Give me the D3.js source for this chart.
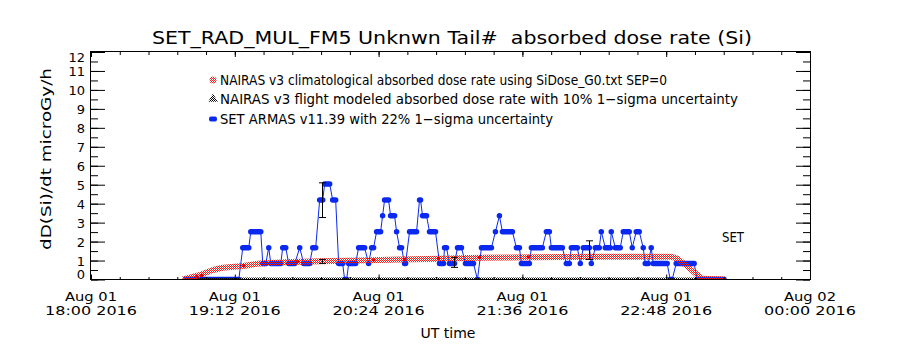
<!DOCTYPE html>
<html>
<head>
<meta charset="utf-8">
<script src="https://cdn.jsdelivr.net/npm/d3@7"></script>
<style>
  body { margin: 0; background: #fff; }
  text { font-family: "DejaVu Sans", sans-serif; fill: #000; white-space: pre; }
</style>
</head>
<body>
<svg id="chart" width="900" height="350"></svg>
<script>
// x axis ticks (UT) and y ticks
const xTickTimes = ["2016-08-01 18:00", "2016-08-01 19:12", "2016-08-01 20:24",
                    "2016-08-01 21:36", "2016-08-01 22:48", "2016-08-02 00:00"];
const yTickValues = [0, 1, 2, 3, 4, 5, 6, 7, 8, 9, 10, 11, 12];

// NAIRAS v3 climatological dose rate (microGy/h)
const climTime = ["18:46:00", "18:48:00", "18:54:30", "19:01:00", "19:06:00", "19:16:00",
                  "19:24:30", "19:39:30", "19:54:30", "20:19:30", "20:34:30", "20:54:30",
                  "21:14:30", "21:41:30", "22:15:00", "22:50:30", "22:53:30", "22:58:30",
                  "23:03:30", "23:06:00", "23:11:00", "23:17:30"];
const climDose = [0.0, 0.06, 0.24, 0.5, 0.62, 0.71, 0.85, 0.92, 0.96, 1.02, 1.05, 1.1,
                  1.15, 1.18, 1.2, 1.2, 1.1, 0.7, 0.25, 0.05, 0.02, 0.0];
// solid red markers on the climatological curve
const climMarkTime = ["18:53:00", "18:55:30", "19:16:30", "19:43:30", "20:21:30",
                      "20:37:00", "20:54:00", "21:14:30", "21:39:00"];
const climMarkDose = [0.15, 0.22, 0.72, 0.94, 1.03, 1.06, 1.12, 1.16, 1.19];

// NAIRAS v3 flight modeled
const flightTime = ["18:46:00", "23:17:30"];
const flightDose = [0, 0];
const flightErrTime = ["19:55:30"];
const flightErrLow = [0.85];
const flightErrHigh = [1.06];

// SET ARMAS v11.39, runs of constant dose
const armasStart = ["18:47:30", "19:16:00", "19:20:00", "19:26:00", "19:29:00", "19:30:00",
  "19:36:00", "19:39:00", "19:44:30", "19:46:30", "19:51:00", "19:54:30", "19:57:00",
  "20:01:00", "20:04:00", "20:07:00", "20:09:00", "20:14:00", "20:19:00", "20:20:30",
  "20:23:00", "20:26:00", "20:27:00", "20:30:00", "20:33:00", "20:34:30", "20:37:00",
  "20:39:30", "20:44:30", "20:46:00", "20:49:30", "20:54:30", "20:57:00", "20:59:30",
  "21:03:30", "21:07:30", "21:13:30", "21:15:30", "21:22:30", "21:24:30", "21:26:00",
  "21:33:00", "21:35:30", "21:40:30", "21:48:00", "21:50:30", "21:58:00", "22:00:30",
  "22:05:00", "22:06:30", "22:10:30", "22:12:30", "22:15:30", "22:17:30", "22:20:30",
  "22:22:30", "22:26:30", "22:31:00", "22:33:00", "22:36:30", "22:37:30", "22:40:30",
  "22:41:30", "22:50:00", "22:53:00", "23:03:30"];
const armasEnd = ["19:14:00", "19:19:00", "19:25:00", "19:27:30", "19:29:00", "19:35:00",
  "19:37:30", "19:42:00", "19:44:30", "19:49:30", "19:52:30", "19:56:00", "19:59:30",
  "20:02:30", "20:06:00", "20:08:00", "20:12:30", "20:17:00", "20:19:00", "20:21:30",
  "20:25:00", "20:26:00", "20:29:00", "20:32:00", "20:33:00", "20:35:30", "20:37:30",
  "20:43:00", "20:45:00", "20:48:00", "20:52:30", "20:56:30", "20:58:00", "21:02:00",
  "21:05:30", "21:11:30", "21:13:30", "21:20:30", "21:22:30", "21:24:30", "21:31:00",
  "21:34:30", "21:39:30", "21:46:00", "21:49:30", "21:56:00", "21:59:30", "22:03:30",
  "22:05:00", "22:09:30", "22:10:30", "22:14:30", "22:15:30", "22:20:00", "22:20:30",
  "22:25:00", "22:29:30", "22:31:00", "22:34:30", "22:36:30", "22:39:00", "22:40:30",
  "22:48:30", "22:51:00", "23:02:00", "23:17:00"];
const armasDose = [0, 1.68, 2.52, 0.84, 1.68, 0.84,
  1.68, 0.84, 1.68, 0.84, 1.68, 4.2, 5.04,
  4.2, 0.84, 0, 0.84, 1.68, 0.84, 1.68,
  2.52, 3.36, 4.2, 3.36, 2.52, 1.68, 0.84,
  2.52, 4.2, 3.36, 2.52, 0.84, 1.68, 0.84,
  1.68, 0.84, 0, 1.68, 2.52, 3.36, 2.52,
  1.68, 0.84, 1.68, 2.52, 1.68, 0.84, 1.68,
  0.84, 1.68, 0.84, 1.68, 2.52, 1.68, 2.52,
  1.68, 2.52, 1.68, 2.52, 1.68, 0.84, 1.68,
  0.84, 0, 0.84, 0];
const armasErrTime = ["19:55:30", "21:02:00", "22:09:30"];
const armasErrLow = [3.27, 0.64, 1.06];
const armasErrHigh = [5.1, 1.17, 2.04];

const legendLabels = [
  "NAIRAS v3 climatological absorbed dose rate using SiDose_G0.txt SEP=0",
  "NAIRAS v3 flight modeled absorbed dose rate with 10% 1\u2212sigma uncertainty",
  "SET ARMAS v11.39 with 22% 1\u2212sigma uncertainty"
];

const parseTick = d3.utcParse("%Y-%m-%d %H:%M");
const parseT = s => d3.utcParse("%Y-%m-%d %H:%M:%S")("2016-08-01 " + s);

function drawChart() {
  const left = 91, right = 810, top = 52, bottom = 279.5;
  const svg = d3.select("#chart");
  const blue = "#0a28f0";

  const ticks = xTickTimes.map(parseTick);
  const x = d3.scaleUtc()
      .domain([ticks[0], ticks[ticks.length - 1]])
      .range([left, right]);
  const y = d3.scaleLinear()
      .domain([0, 12])
      .range([bottom, top]);

  // hatch patterns (IDL-like checkered symbols)
  const defs = svg.append("defs");
  function hatch(id, col) {
    const p = defs.append("pattern").attr("id", id)
        .attr("width", 2).attr("height", 2)
        .attr("patternUnits", "userSpaceOnUse");
    p.append("rect").attr("width", 1).attr("height", 1).attr("fill", col);
    p.append("rect").attr("x", 1).attr("y", 1).attr("width", 1).attr("height", 1).attr("fill", col);
  }
  hatch("redHatch", "#e82020");
  hatch("blackHatch", "#000");
  defs.append("clipPath").attr("id", "plotClip")
    .append("rect").attr("x", left).attr("y", top)
      .attr("width", right - left).attr("height", bottom - top);

  // title
  svg.append("text")
      .attr("x", 452).attr("y", 44)
      .attr("text-anchor", "middle")
      .attr("font-size", 17)
      .attr("textLength", 600).attr("lengthAdjust", "spacingAndGlyphs")
      .text("SET_RAD_MUL_FM5 Unknwn Tail#  absorbed dose rate (Si)");

  const plot = svg.append("g").attr("clip-path", "url(#plotClip)");

  // ARMAS: thin connecting line then thick run bars
  const armasPts = [];
  armasStart.forEach((s, i) => {
    armasPts.push([parseT(s), armasDose[i]]);
    armasPts.push([parseT(armasEnd[i]), armasDose[i]]);
  });
  plot.append("path")
      .datum(armasPts)
      .attr("fill", "none")
      .attr("stroke", blue)
      .attr("stroke-width", 1)
      .attr("d", d3.line().x(d => x(d[0])).y(d => y(d[1])));

  plot.append("g")
    .selectAll("line")
    .data(armasStart.map((s, i) => ({t0: parseT(s), t1: parseT(armasEnd[i]), v: armasDose[i]})))
    .enter().append("line")
      .attr("x1", d => x(d.t0)).attr("x2", d => x(d.t1))
      .attr("y1", d => y(d.v)).attr("y2", d => y(d.v))
      .attr("stroke", blue)
      .attr("stroke-width", 5.5)
      .attr("stroke-linecap", "round");

  // NAIRAS flight modeled (at zero)
  plot.append("path")
      .datum(flightTime.map((t, i) => [parseT(t), flightDose[i]]))
      .attr("fill", "none")
      .attr("stroke", "url(#blackHatch)")
      .attr("stroke-width", 4)
      .attr("d", d3.line().x(d => x(d[0])).y(d => y(d[1])));

  // NAIRAS climatological band
  plot.append("path")
      .datum(climTime.map((t, i) => [parseT(t), climDose[i]]))
      .attr("fill", "none")
      .attr("stroke", "url(#redHatch)")
      .attr("stroke-width", 6)
      .attr("stroke-linejoin", "round")
      .attr("d", d3.line().x(d => x(d[0])).y(d => y(d[1])));

  plot.append("g")
    .selectAll("circle")
    .data(climMarkTime.map((t, i) => [parseT(t), climMarkDose[i]]))
    .enter().append("circle")
      .attr("cx", d => x(d[0])).attr("cy", d => y(d[1]))
      .attr("r", 1.8)
      .attr("fill", "#e00000");

  // error bars
  function errorBars(times, lo, hi, cap) {
    const g = plot.append("g").attr("stroke", "#000").attr("stroke-width", 1);
    const data = times.map((t, i) => ({x: Math.round(x(parseT(t))) + 0.5, lo: lo[i], hi: hi[i]}));
    g.selectAll(".v").data(data).enter().append("line")
        .attr("x1", d => d.x).attr("x2", d => d.x)
        .attr("y1", d => y(d.lo)).attr("y2", d => y(d.hi));
    g.selectAll(".lo").data(data).enter().append("line")
        .attr("x1", d => d.x - cap).attr("x2", d => d.x + cap)
        .attr("y1", d => y(d.lo)).attr("y2", d => y(d.lo));
    g.selectAll(".hi").data(data).enter().append("line")
        .attr("x1", d => d.x - cap).attr("x2", d => d.x + cap)
        .attr("y1", d => y(d.hi)).attr("y2", d => y(d.hi));
  }
  errorBars(armasErrTime, armasErrLow, armasErrHigh, 3.5);
  errorBars(flightErrTime, flightErrLow, flightErrHigh, 3.5);

  // axes: IDL style, ticks inward on all four sides
  const majorMs = 72 * 60000;
  const minorTimes = d3.range(x.domain()[0].getTime(), x.domain()[1].getTime() + 1, majorMs / 5)
      .map(v => new Date(v));
  const minorY = d3.range(0, 12.01, 0.5);

  function styleAxis(g) {
    g.select(".domain").remove();
    g.selectAll("line").attr("stroke", "#000");
  }

  svg.append("g").attr("transform", `translate(0,${bottom})`)
      .call(d3.axisBottom(x).tickValues(minorTimes).tickSizeInner(-2.5).tickSizeOuter(0).tickFormat(""))
      .call(styleAxis);
  svg.append("g").attr("transform", `translate(0,${bottom})`)
      .call(d3.axisBottom(x).tickValues(ticks).tickSizeInner(-5).tickSizeOuter(0).tickFormat(""))
      .call(styleAxis);
  svg.append("g").attr("transform", `translate(0,${top})`)
      .call(d3.axisTop(x).tickValues(minorTimes).tickSizeInner(-3).tickSizeOuter(0).tickFormat(""))
      .call(styleAxis);
  svg.append("g").attr("transform", `translate(0,${top})`)
      .call(d3.axisTop(x).tickValues(ticks).tickSizeInner(-5).tickSizeOuter(0).tickFormat(""))
      .call(styleAxis);

  svg.append("g").attr("transform", `translate(${left},0)`)
      .call(d3.axisLeft(y).tickValues(minorY).tickSizeInner(-7).tickSizeOuter(0).tickFormat(""))
      .call(styleAxis);
  const yAxis = svg.append("g").attr("transform", `translate(${left},0)`)
      .call(d3.axisLeft(y).tickValues(yTickValues).tickSizeInner(-14).tickSizeOuter(0).tickPadding(6))
      .call(styleAxis);
  yAxis.selectAll("text")
      .attr("font-size", 13)
      .attr("font-family", "DejaVu Sans, sans-serif")
      .attr("dy", d => d === 12 ? "0.7em" : d === 0 ? "-0.05em" : "0.36em");
  svg.append("g").attr("transform", `translate(${right},0)`)
      .call(d3.axisRight(y).tickValues(minorY).tickSizeInner(-7).tickSizeOuter(0).tickFormat(""))
      .call(styleAxis);
  svg.append("g").attr("transform", `translate(${right},0)`)
      .call(d3.axisRight(y).tickValues(yTickValues).tickSizeInner(-14).tickSizeOuter(0).tickFormat(""))
      .call(styleAxis);

  // frame
  svg.append("rect")
      .attr("x", left - 0.5).attr("y", top - 0.5)
      .attr("width", right - left + 1).attr("height", bottom - top + 0.5)
      .attr("fill", "none").attr("stroke", "#000");

  // x tick labels (two lines)
  const fmtDay = d3.utcFormat("%b %d");
  const fmtTime = d3.utcFormat("%H:%M %Y");
  const xl = svg.append("g").selectAll("g").data(ticks).enter().append("g");
  xl.append("text")
      .attr("x", d => x(d)).attr("y", 301)
      .attr("text-anchor", "middle").attr("font-size", 13)
      .attr("textLength", 52).attr("lengthAdjust", "spacingAndGlyphs")
      .text(d => fmtDay(d));
  xl.append("text")
      .attr("x", d => x(d)).attr("y", 315)
      .attr("text-anchor", "middle").attr("font-size", 13)
      .attr("textLength", 92).attr("lengthAdjust", "spacingAndGlyphs")
      .text(d => fmtTime(d));

  svg.append("text")
      .attr("x", 448).attr("y", 338)
      .attr("text-anchor", "middle").attr("font-size", 14)
      .text("UT time");

  svg.append("text")
      .attr("transform", "translate(51,159) rotate(-90)")
      .attr("text-anchor", "middle").attr("font-size", 14)
      .attr("textLength", 182).attr("lengthAdjust", "spacingAndGlyphs")
      .text("dD(Si)/dt microGy/h");

  svg.append("text")
      .attr("x", 722).attr("y", 242)
      .attr("font-size", 14)
      .attr("textLength", 22).attr("lengthAdjust", "spacingAndGlyphs")
      .text("SET");

  // legend
  const legY = [80, 99, 119];
  const legLen = [447, 518, 333];
  const leg = svg.append("g");
  leg.append("circle").attr("cx", 213).attr("cy", legY[0]).attr("r", 3.5)
      .attr("fill", "url(#redHatch)");
  leg.append("path")
      .attr("d", d3.symbol().type(d3.symbolTriangle).size(40)())
      .attr("transform", `translate(213,${legY[1]})`)
      .attr("fill", "url(#blackHatch)");
  leg.append("rect").attr("x", 209).attr("y", legY[2] - 2.5)
      .attr("width", 8).attr("height", 5).attr("rx", 2)
      .attr("fill", blue);
  leg.selectAll("text").data(legendLabels).enter().append("text")
      .attr("x", 220).attr("y", (d, i) => legY[i] + 5)
      .attr("font-size", 14)
      .attr("textLength", (d, i) => legLen[i]).attr("lengthAdjust", "spacingAndGlyphs")
      .text(d => d);
}

window.onload = function() {
  drawChart();
};
</script>
</body>
</html>
